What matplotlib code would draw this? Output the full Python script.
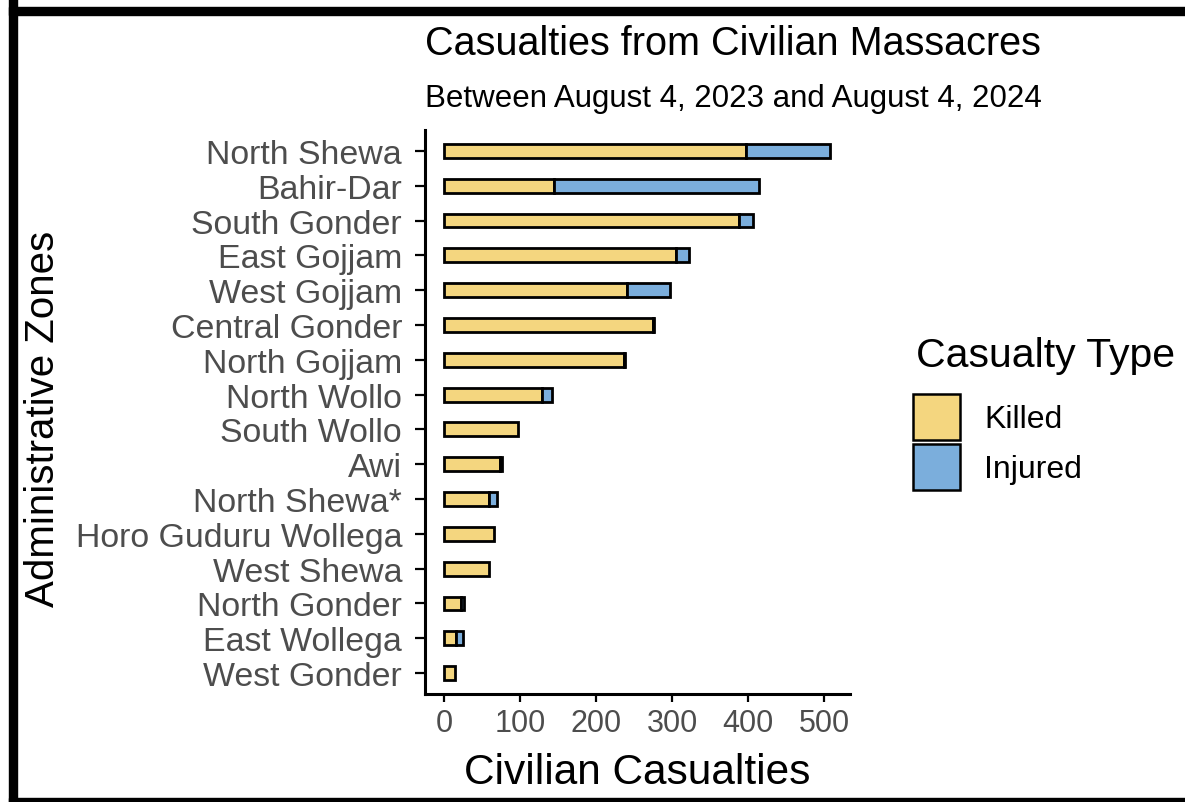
import matplotlib
matplotlib.use("Agg")
import matplotlib.pyplot as plt
from matplotlib.patches import Patch, Rectangle
import numpy as np

# ------------------------------------------------------
# Datos (de arriba hacia abajo)
# ------------------------------------------------------
zonas = [
    "North Shewa", "Bahir-Dar", "South Gonder", "East Gojjam", "West Gojjam",
    "Central Gonder", "North Gojjam", "North Wollo", "South Wollo", "Awi",
    "North Shewa*", "Horo Guduru Wollega", "West Shewa", "North Gonder",
    "East Wollega", "West Gonder",
]
muertos = [397, 144, 388, 305, 240, 275, 237, 129, 97, 73, 59, 66, 59, 22, 15, 14]
heridos = [111, 270, 18, 17, 57, 1, 1, 13, 0, 3, 10, 0, 0, 4, 9, 0]
xticks = [0, 100, 200, 300, 400, 500]

color_muertos = "#F4D67F"
color_heridos = "#7BAEDC"

plt.rcParams["font.family"] = ["Liberation Sans", "DejaVu Sans"]

fig = plt.figure(figsize=(11.85, 8.03), dpi=100)
ax = fig.add_axes([425 / 1185, 1 - 695 / 803, 424.6 / 1185, 564 / 803])

y = np.arange(len(zonas))[::-1] + 1
ax.barh(y, muertos, height=0.4, color=color_muertos, edgecolor="black", linewidth=2.0)
heridos_vis = np.array(heridos)
mask = heridos_vis > 0
ax.barh(y[mask], heridos_vis[mask], left=np.array(muertos)[mask], height=0.4,
        color=color_heridos, edgecolor="black", linewidth=2.0)

ax.set_xlim(-25.4, 533.4)
ax.set_ylim(0.4, 16.6)
ax.set_yticks(y)
ax.set_yticklabels(zonas, fontsize=24.4, color="#4D4D4D")
ax.set_xticks(xticks)
ax.set_xticklabels([str(v) for v in xticks], fontsize=22, color="#4D4D4D")

for lado in ["top", "right"]:
    ax.spines[lado].set_visible(False)
for lado in ["left", "bottom"]:
    ax.spines[lado].set_linewidth(2.2)
ax.tick_params(axis="y", length=7, width=1.6, pad=9.5)
ax.tick_params(axis="x", length=6, width=1.6, pad=4)

ax.set_xlabel("Civilian Casualties", fontsize=30.5, labelpad=10)
ax.set_ylabel("Administrative Zones", fontsize=29)
ax.yaxis.set_label_coords(-0.854, 0.49)

# Titulos alineados al panel
fig.text(425 / 1185, 1 - 55 / 803, "Casualties from Civilian Massacres",
         fontsize=28.5, va="baseline", ha="left")
fig.text(425 / 1185, 1 - 107 / 803, "Between August 4, 2023 and August 4, 2024",
         fontsize=22.5, va="baseline", ha="left")

# Leyenda (titulo aparte para controlar el espacio)
fig.text(916 / 1185, 1 - 367 / 803, "Casualty Type", fontsize=29.5,
         va="baseline", ha="left")
handles = [
    Patch(facecolor=color_muertos, edgecolor="black", linewidth=1.8, label="Killed"),
    Patch(facecolor=color_heridos, edgecolor="black", linewidth=1.8, label="Injured"),
]
leg = fig.legend(handles=handles, loc="upper left",
                 bbox_to_anchor=(913 / 1185, 1 - 395 / 803), frameon=False,
                 fontsize=23, handlelength=1.47, handleheight=1.84,
                 handletextpad=0.75, labelspacing=0.12,
                 borderpad=0, borderaxespad=0)

# Marco negro de la imagen
fig.patches.append(Rectangle((9 / 1185, 0), 8 / 1185, 1, transform=fig.transFigure,
                             color="black", zorder=10))
fig.patches.append(Rectangle((9 / 1185, 1 - 16 / 803), 1, 8 / 803, transform=fig.transFigure,
                             color="black", zorder=10))
fig.patches.append(Rectangle((9 / 1185, 0), 1, 4 / 803, transform=fig.transFigure,
                             color="black", zorder=10))

fig.savefig("out.png", dpi=100)
